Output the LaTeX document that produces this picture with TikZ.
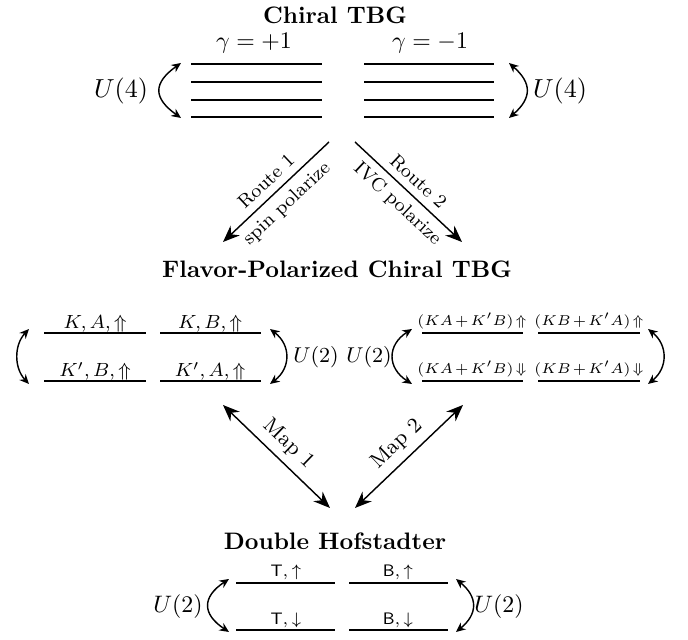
\documentclass[tikz,border=0pt]{standalone}
\usetikzlibrary{arrows.meta,calc}
% tight math spacing for the small IVC labels
\newcommand{\ivcmath}[1]{$\medmuskip=2mu\thickmuskip=2mu #1$}
\begin{document}
\begin{tikzpicture}[x=0.42pt,y=-0.42pt,
  level/.style={thick},
  swaparc/.style={semithick,{Stealth[length=4pt,width=3.6pt]}-{Stealth[length=4pt,width=3.6pt]}},
  route/.style={semithick,-{Stealth[length=7pt,width=5.6pt]}},
  maparrow/.style={semithick,{Stealth[length=7pt,width=5.6pt]}-{Stealth[length=7pt,width=5.6pt]}},
  title/.style={font=\bfseries},
  lab/.style={anchor=base,inner sep=0pt},
  ivclab/.style={lab,font=\fontsize{6}{7}\selectfont},
  routelab/.style={sloped,inner sep=3pt,font=\footnotesize},
  maplab/.style={sloped,above,inner sep=3pt,font=\small},
  sym/.style={font=\fontsize{11}{13}\selectfont},
]
\useasboundingbox (0,0) rectangle (688,640);

% ---------- Chiral TBG ----------
\node[title] (t1) at (335,15) {Chiral TBG};
\node[lab] (gp) at (254,49) {$\gamma=+1$};
\node[lab] (gm) at (430,49) {$\gamma=-1$};
\foreach \i/\y in {1/64,2/82,3/100,4/117}{
  \draw[level] (191,\y) coordinate (pl\i w) -- (322,\y) coordinate (pl\i e);
  \draw[level] (364,\y) coordinate (mi\i w) -- (494,\y) coordinate (mi\i e);
}
\coordinate (ua1) at (181,63);  \coordinate (ua2) at (181,118);
\coordinate (ub1) at (509,63);  \coordinate (ub2) at (509,118);
\draw[swaparc] (ua1) .. controls +(-28,20) and +(-28,-20) .. (ua2);
\draw[swaparc] (ub1) .. controls +(23,20) and +(23,-20) .. (ub2);
\node[sym] (u4l) at (121,91) {$U(4)$};
\node[sym] (u4r) at (560,91) {$U(4)$};

% ---------- routes ----------
\coordinate (r1s) at (329,142); \coordinate (r1e) at (223,242);
\coordinate (r2s) at (355,142); \coordinate (r2e) at (462,242);
\draw[route] (r1s) -- node[routelab,above] {Route 1}
                      node[routelab,below] {spin polarize} (r1e);
\draw[route] (r2s) -- node[routelab,above] {Route 2}
                      node[routelab,below] {IVC polarize} (r2e);

% ---------- Flavor-polarized chiral TBG ----------
\node[title] (t2) at (337,269) {Flavor-Polarized Chiral TBG};
% spin polarized
\draw[level] (44,333) coordinate (s1w) -- (146,333) coordinate (s1e);
\draw[level] (160,333) coordinate (s2w) -- (261,333) coordinate (s2e);
\draw[level] (44,381) coordinate (s3w) -- (146,381) coordinate (s3e);
\draw[level] (160,381) coordinate (s4w) -- (261,381) coordinate (s4e);
\node[lab,font=\footnotesize] (s1) at (95,329) {$K,A,\Uparrow$};
\node[lab,font=\footnotesize] (s2) at (210,329) {$K,B,\Uparrow$};
\node[lab,font=\footnotesize] (s3) at (95,377) {$K',B,\Uparrow$};
\node[lab,font=\footnotesize] (s4) at (210,377) {$K',A,\Uparrow$};
\coordinate (sa1) at (29,329);  \coordinate (sa2) at (29,384);
\coordinate (sb1) at (270,329); \coordinate (sb2) at (270,384);
\draw[swaparc] (sa1) .. controls +(-15,16) and +(-15,-16) .. (sa2);
\draw[swaparc] (sb1) .. controls +(21,16) and +(21,-16) .. (sb2);
\node[font=\small] (u2a) at (316,357) {$U(2)$};
% IVC polarized
\draw[level] (422,333) coordinate (v1w) -- (523,333) coordinate (v1e);
\draw[level] (538,333) coordinate (v2w) -- (640,333) coordinate (v2e);
\draw[level] (422,381) coordinate (v3w) -- (523,381) coordinate (v3e);
\draw[level] (538,381) coordinate (v4w) -- (640,381) coordinate (v4e);
\node[ivclab] (v1) at (472,326) {\ivcmath{(KA+K'B)\Uparrow}};
\node[ivclab] (v2) at (589,326) {\ivcmath{(KB+K'A)\Uparrow}};
\node[ivclab] (v3) at (472,374) {\ivcmath{(KA+K'B)\Downarrow}};
\node[ivclab] (v4) at (589,374) {\ivcmath{(KB+K'A)\Downarrow}};
\coordinate (va1) at (412,329); \coordinate (va2) at (412,384);
\coordinate (vb1) at (648,329); \coordinate (vb2) at (648,384);
\draw[swaparc] (va1) .. controls +(-25,16) and +(-25,-16) .. (va2);
\draw[swaparc] (vb1) .. controls +(20,16) and +(20,-16) .. (vb2);
\node[font=\small] (u2b) at (369,357) {$U(2)$};

% ---------- maps ----------
\coordinate (m1a) at (223,405); \coordinate (m1b) at (330,508);
\coordinate (m2a) at (355,508); \coordinate (m2b) at (463,405);
\draw[maparrow] (m1a) -- node[maplab] {Map 1} (m1b);
\draw[maparrow] (m2a) -- node[maplab] {Map 2} (m2b);

% ---------- Double Hofstadter ----------
\node[title] (t3) at (335,541) {Double Hofstadter};
\draw[level] (236,583) coordinate (h1w) -- (335,583) coordinate (h1e);
\draw[level] (349,583) coordinate (h2w) -- (448,583) coordinate (h2e);
\draw[level] (236,630) coordinate (h3w) -- (335,630) coordinate (h3e);
\draw[level] (349,630) coordinate (h4w) -- (448,630) coordinate (h4e);
\node[lab,font=\scriptsize] (h1) at (286,577) {$\mathsf{T},\uparrow$};
\node[lab,font=\scriptsize] (h2) at (398,577) {$\mathsf{B},\uparrow$};
\node[lab,font=\scriptsize] (h3) at (286,625) {$\mathsf{T},\downarrow$};
\node[lab,font=\scriptsize] (h4) at (398,625) {$\mathsf{B},\downarrow$};
\coordinate (ha1) at (229,579); \coordinate (ha2) at (229,632);
\coordinate (hb1) at (456,579); \coordinate (hb2) at (456,632);
\draw[swaparc] (ha1) .. controls +(-27,18) and +(-27,-18) .. (ha2);
\draw[swaparc] (hb1) .. controls +(22,18) and +(22,-18) .. (hb2);
\node (u2c) at (178,607) {$U(2)$};
\node (u2d) at (499,607) {$U(2)$};
\end{tikzpicture}
\end{document}
